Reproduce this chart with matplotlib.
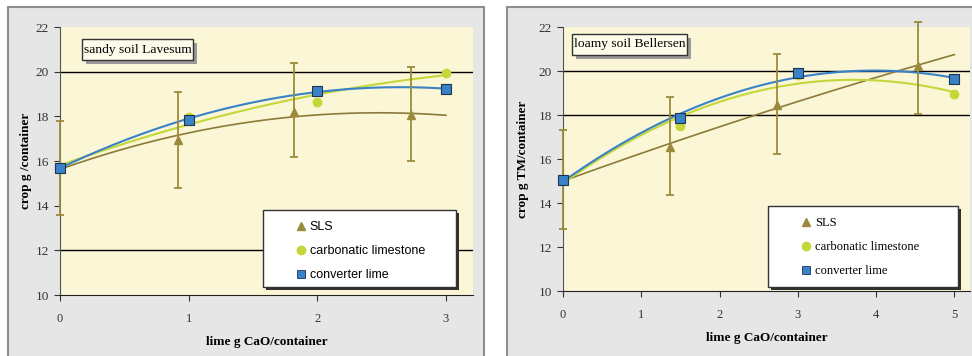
import numpy as np
import matplotlib
matplotlib.use("Agg")
import matplotlib.pyplot as plt
from matplotlib.patches import Rectangle
from matplotlib.lines import Line2D

# ---- data: sandy soil Lavesum ----
l_sls_x = [0, 0.92, 1.82, 2.73]
l_sls_y = [15.7, 16.94, 18.2, 18.06]
l_sls_hi = [17.8, 19.1, 20.4, 20.2]
l_sls_lo = [13.6, 14.8, 16.2, 16.0]
l_carb_x = [0, 1, 2, 3]
l_carb_y = [15.7, 17.95, 18.66, 19.95]
l_conv_x = [0, 1, 2, 3]
l_conv_y = [15.7, 17.84, 19.15, 19.22]

# ---- data: loamy soil Bellersen ----
r_sls_x = [0, 1.37, 2.73, 4.54]
r_sls_y = [15.05, 16.56, 18.44, 20.24]
r_sls_hi = [17.3, 18.83, 20.76, 22.25]
r_sls_lo = [12.8, 14.36, 16.24, 18.03]
r_carb_x = [0, 1.5, 3, 5]
r_carb_y = [15.05, 17.5, 19.8, 18.94]
r_conv_x = [0, 1.5, 3, 5]
r_conv_y = [15.05, 17.85, 19.9, 19.64]

W, H = 972, 356
SERIF = "Liberation Serif"
SANS = "Liberation Sans"
C_SLS = "#9C8A3C"
C_CARB = "#C3D838"
C_CONV = "#3A82C8"
BG = "#FAF6D6"

fig = plt.figure(figsize=(W / 100, H / 100), dpi=100)
fig.patch.set_facecolor("white")


def box(x0, y0, x1, y1):
    # pixel box (top-left origin) -> figure fraction rect args
    return (x0 / W, 1 - y1 / H), (x1 - x0) / W, (y1 - y0) / H


# grey chart frames
for x0, x1 in [(8, 484), (507, 975)]:
    xy, w, h = box(x0, 7, x1, 370)
    fig.patches.append(Rectangle(xy, w, h, transform=fig.transFigure, zorder=-5,
                                 facecolor="#E6E6E6", edgecolor="#8E8E8E", lw=1.5))


def panel(rect_px, xmax, xticks, grid_y, sls, carb, conv, title, title_px,
          leg_px, ylabel, ylpad, leg_font, xlim_trend):
    x0, y0, x1, y1 = rect_px
    xy, w, h = box(x0, y0, x1, y1)
    ax = fig.add_axes([xy[0], xy[1], w, h])
    ax.set_facecolor(BG)
    ax.set_xlim(0, xmax)
    ax.set_ylim(10, 22)
    ax.set_xticks(xticks)
    ax.set_yticks(range(10, 23, 2))
    for s in ["top", "right"]:
        ax.spines[s].set_visible(False)
    ax.spines["left"].set_color("#555555")
    ax.spines["bottom"].set_color("#222222")
    ax.tick_params(axis="x", direction="out", length=4, pad=9, labelsize=9,
                   colors="#333333")
    ax.tick_params(axis="y", direction="out", length=4, pad=4, labelsize=9.5,
                   colors="#333333")
    for lab in ax.get_xticklabels() + ax.get_yticklabels():
        lab.set_fontfamily(SERIF)
    for gy in grid_y:
        ax.axhline(gy, color="black", lw=1.0, zorder=1)

    tx = np.linspace(0, xlim_trend, 200)
    sx, sy, shi, slo = sls
    cx, cy = carb
    vx, vy = conv
    # trend lines (2nd order polynomial fits)
    ax.plot(tx, np.polyval(np.polyfit(sx, sy, 2), tx), color="#8C7A38", lw=1.2, zorder=2)
    ax.plot(tx, np.polyval(np.polyfit(cx, cy, 2), tx), color=C_CARB, lw=1.5, zorder=2)
    ax.plot(tx, np.polyval(np.polyfit(vx, vy, 2), tx), color=C_CONV, lw=1.5, zorder=2)

    eb = ax.errorbar(sx, sy, yerr=[np.array(sy) - np.array(slo), np.array(shi) - np.array(sy)],
                     fmt="^", color=C_SLS, ms=6, ecolor=C_SLS, elinewidth=1.3,
                     capsize=3, capthick=1.3, zorder=3)
    for art in eb.lines[1] + eb.lines[2] + (eb.lines[0],):
        art.set_clip_on(False)
    ax.plot(cx, cy, "o", color=C_CARB, ms=6, zorder=4, clip_on=False)
    ax.plot(vx, vy, "s", color=C_CONV, mec="#1E3550", mew=0.8, ms=6.5, zorder=5,
            clip_on=False)

    ax.set_xlabel("lime g CaO/container", family=SERIF, fontweight="bold",
                  fontsize=9.5, labelpad=8)
    ax.set_ylabel(ylabel, family=SERIF, fontweight="bold", fontsize=9.5, labelpad=ylpad)

    # title box with shadow
    tx0, ty0, tx1, ty1 = title_px
    xy, w, h = box(tx0 + 4, ty0 + 4, tx1 + 4, ty1 + 4)
    ax.add_patch(Rectangle(xy, w, h, transform=fig.transFigure, facecolor="#9A9A9A",
                           edgecolor="none", zorder=6, clip_on=False))
    xy, w, h = box(tx0, ty0, tx1, ty1)
    ax.add_patch(Rectangle(xy, w, h, transform=fig.transFigure, facecolor="#FDFBEA",
                           edgecolor="#333333", lw=1.0, zorder=7, clip_on=False))
    ax.text((tx0 + tx1) / 2 / W, 1 - (ty0 + ty1) / 2 / H, title, family=SERIF,
            fontsize=9.7, ha="center", va="center", zorder=8, transform=fig.transFigure)

    # legend box with shadow
    lx0, ly0, lx1, ly1 = leg_px
    xy, w, h = box(lx0 + 3, ly0 + 3, lx1 + 3, ly1 + 3)
    ax.add_patch(Rectangle(xy, w, h, transform=fig.transFigure, facecolor="#303030",
                           edgecolor="none", zorder=6, clip_on=False))
    xy, w, h = box(lx0, ly0, lx1, ly1)
    ax.add_patch(Rectangle(xy, w, h, transform=fig.transFigure, facecolor="white",
                           edgecolor="#333333", lw=1.0, zorder=7, clip_on=False))
    handles = [Line2D([], [], ls="none", marker="^", color=C_SLS, ms=6),
               Line2D([], [], ls="none", marker="o", color=C_CARB, ms=6),
               Line2D([], [], ls="none", marker="s", color=C_CONV, mec="#1E3550",
                      mew=0.6, ms=6)]
    leg = ax.legend(handles, ["SLS", "carbonatic limestone", "converter lime"],
                    loc="upper left", bbox_to_anchor=((lx0 + 25) / W, 1 - (ly0 + 5) / H),
                    bbox_transform=fig.transFigure, frameon=False, borderpad=0,
                    handlelength=1.0, handletextpad=0.25, labelspacing=0.95,
                    prop={"family": leg_font, "size": 9})
    leg.set_zorder(9)
    return ax


panel((60, 27, 473, 295), 3.21, [0, 1, 2, 3], [20, 12],
      (l_sls_x, l_sls_y, l_sls_hi, l_sls_lo), (l_carb_x, l_carb_y), (l_conv_x, l_conv_y),
      "sandy soil Lavesum", (82, 39, 193, 60), (263, 210, 456, 287),
      "crop g /container", 2.5, SANS, 3.0)

panel((563, 27, 970, 291), 5.2, [0, 1, 2, 3, 4, 5], [20, 18],
      (r_sls_x, r_sls_y, r_sls_hi, r_sls_lo), (r_carb_x, r_carb_y), (r_conv_x, r_conv_y),
      "loamy soil Bellersen", (572, 34, 687, 55), (768, 206, 958, 287),
      "crop g TM/container", 7, SERIF, 5.0)

fig.savefig("out.png", dpi=100)
